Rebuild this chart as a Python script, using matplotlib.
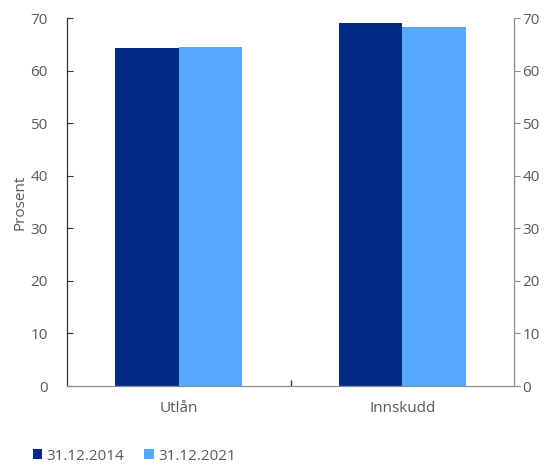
import matplotlib.pyplot as plt
import numpy as np

plt.rcParams['font.family'] = ['Open Sans', 'DejaVu Sans']

categories = ['Utlån', 'Innskudd']
series_2014 = [64.3, 69.1]
series_2021 = [64.5, 68.3]
labels = ['31.12.2014', '31.12.2021']
colors = ['#002a85', '#56a9ff']
text_color = '#595959'
dark = '#333333'
grey = '#8c8c8c'

fig = plt.figure(figsize=(5.49, 4.67), dpi=100)
ax = fig.add_axes([67 / 549, 1 - 386 / 467, 447 / 549, 368 / 467])

x = np.arange(len(categories))
w = 0.285
ax.bar(x - w / 2, series_2014, w, color=colors[0], label=labels[0])
ax.bar(x + w / 2, series_2021, w, color=colors[1], label=labels[1])

ax.set_xlim(-0.5, 1.5)
ax.set_ylim(0, 70)
ax.set_yticks(range(0, 71, 10))
ax.set_xticks(x)
ax.set_xticklabels(categories)
ax.set_xticks([0.5], minor=True)
ax.tick_params(axis='x', which='major', length=0, pad=11, labelsize=11, labelcolor=text_color)
ax.tick_params(axis='x', which='minor', direction='in', length=4, width=1, color=dark)
ax.tick_params(axis='y', direction='in', length=4, color=dark, labelsize=11,
               labelcolor=text_color, pad=14)
ax.set_ylabel('Prosent', color=text_color, fontsize=11, labelpad=2)

ax.spines['top'].set_visible(False)
ax.spines['left'].set_color(dark)
ax.spines['bottom'].set_color(grey)
ax.spines['right'].set_visible(False)
for s in ['left', 'bottom']:
    ax.spines[s].set_linewidth(0.9)

ax2 = ax.twinx()
ax2.set_ylim(0, 70)
ax2.set_yticks(range(0, 71, 10))
ax2.tick_params(axis='y', direction='out', length=4, color=grey, labelsize=11,
                labelcolor=text_color, pad=2)
for s in ['top', 'left', 'bottom']:
    ax2.spines[s].set_visible(False)
ax2.spines['right'].set_color(grey)
ax2.spines['right'].set_linewidth(0.9)

handles, lbls = ax.get_legend_handles_labels()
fig.legend(handles, lbls, loc='center left', bbox_to_anchor=(33 / 549, 1 - 456 / 467),
           ncol=2, frameon=False, fontsize=11, labelcolor=text_color,
           handlelength=0.6, handleheight=0.6, handletextpad=0.3, columnspacing=1.3,
           borderaxespad=0, borderpad=0)

fig.savefig('out.png', dpi=100)
